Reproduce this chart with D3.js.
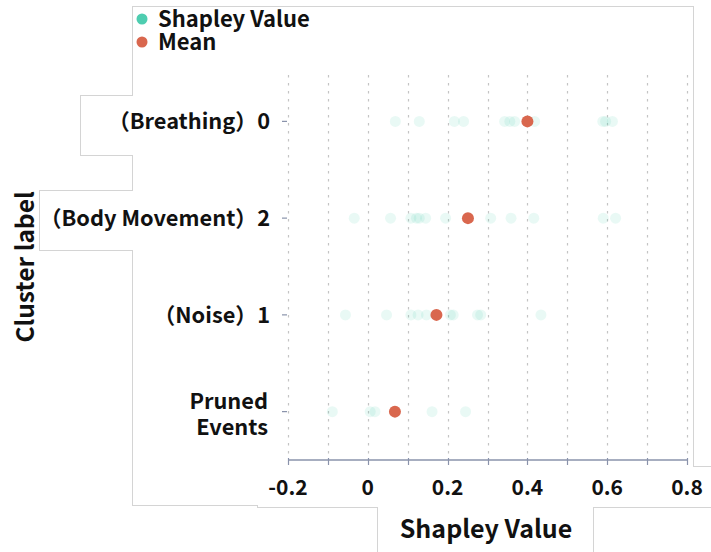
<!DOCTYPE html>
<html><head><meta charset="utf-8">
<script src="https://cdn.jsdelivr.net/npm/d3@7"></script>
<style>
html,body{margin:0;padding:0;background:#fff;}
svg{display:block;}
text{font-family:"Noto Sans CJK JP","Noto Sans",sans-serif;font-weight:700;fill:#111;}
</style></head>
<body>
<svg id="c" width="711" height="552"></svg>
<script>
// ---- data ----
const categories = ["（Breathing）0", "（Body Movement）2", "（Noise）1", "Pruned Events"];
const shapBreathing = [0.069, 0.129, 0.217, 0.240, 0.343, 0.356, 0.368, 0.418, 0.589, 0.596, 0.613];
const shapBodyMovement = [-0.034, 0.057, 0.108, 0.122, 0.129, 0.145, 0.195, 0.308, 0.359, 0.416, 0.590, 0.621];
const shapNoise = [-0.056, 0.047, 0.108, 0.126, 0.147, 0.207, 0.214, 0.275, 0.283, 0.434];
const shapPruned = [-0.089, 0.006, 0.018, 0.161, 0.245];
const meanValues = [0.400, 0.251, 0.172, 0.068];
const xTicks = [-0.2, 0, 0.2, 0.4, 0.6, 0.8];
const xGrid = [-0.2, -0.1, 0, 0.1, 0.2, 0.3, 0.4, 0.5, 0.6, 0.7, 0.8];
const legendLabels = ["Shapley Value", "Mean"];

const shapSeries = [shapBreathing, shapBodyMovement, shapNoise, shapPruned];
const green = "#4ecdb0", red = "#d9674e";

const svg = d3.select("#c");

// ---- panel outlines (union of boxes) ----
const boxes = [
  [133, 7, 693, 505],
  [81, 96, 140, 155],
  [40, 191, 140, 250],
  [258, 467, 730, 507],
  [378, 507, 593, 570]
];
const bg = svg.append("g");
bg.selectAll("rect.s").data(boxes).join("rect")
  .attr("x", d => d[0]).attr("y", d => d[1])
  .attr("width", d => d[2] - d[0]).attr("height", d => d[3] - d[1])
  .attr("fill", "none").attr("stroke", "#d4d4d4").attr("stroke-width", 2);
bg.selectAll("rect.f").data(boxes).join("rect")
  .attr("x", d => d[0]).attr("y", d => d[1])
  .attr("width", d => d[2] - d[0]).attr("height", d => d[3] - d[1])
  .attr("fill", "#fff");

// ---- scales ----
const x = d3.scaleLinear().domain([-0.2, 0.8]).range([288, 687]);
const y = d3.scaleBand().domain(categories).range([73, 460]).padding(0);
const yc = c => y(c) + y.bandwidth() / 2;

// grid
svg.append("g").selectAll("line").data(xGrid).join("line")
  .attr("x1", d => Math.round(x(d)) + 0.5).attr("x2", d => Math.round(x(d)) + 0.5)
  .attr("y1", 75).attr("y2", 458)
  .attr("stroke", "#c4c4c4").attr("stroke-width", 1.2).attr("stroke-dasharray", "2.5,5.5");

// x axis
const xAxisG = svg.append("g").attr("transform", "translate(0,460)");
xAxisG.append("line").attr("x1", x(-0.2)).attr("x2", x(0.8)).attr("y1", 0).attr("y2", 0)
  .attr("stroke", "#8a93ab").attr("stroke-width", 1.5);
xAxisG.selectAll("line.t").data(xGrid).join("line").attr("class", "t")
  .attr("x1", d => Math.round(x(d)) + 0.5).attr("x2", d => Math.round(x(d)) + 0.5)
  .attr("y1", -2).attr("y2", 5).attr("stroke", "#8a93ab").attr("stroke-width", 1.2);
xAxisG.selectAll("text").data(xTicks).join("text")
  .attr("x", d => x(d)).attr("y", 35).attr("text-anchor", "middle")
  .style("font-size", "21px").text(d => d === 0 ? "0" : d3.format(".1f")(d).replace("−", "-"));

// y axis ticks + labels
const yAxisG = svg.append("g");
yAxisG.selectAll("line").data(categories).join("line")
  .attr("x1", 282).attr("x2", 287).attr("y1", d => yc(d)).attr("y2", d => yc(d))
  .attr("stroke", "#8a93ab").attr("stroke-width", 1.2);
yAxisG.selectAll("text").data(categories).join("text")
  .attr("text-anchor", "end").attr("x", 270)
  .attr("y", d => yc(d) + 8)
  .style("font-size", "21.8px")
  .each(function(d) {
    const t = d3.select(this);
    if (d === "Pruned Events") {
      t.append("tspan").attr("x", 268).attr("dy", -11).text("Pruned");
      t.append("tspan").attr("x", 268).attr("dy", 26.5).text("Events");
    } else {
      t.text(d);
    }
  });

// axis titles
svg.append("text").attr("x", 486).attr("y", 538).attr("text-anchor", "middle")
  .style("font-size", "25px").text("Shapley Value");
svg.append("text").attr("transform", "translate(34,267) rotate(-90)").attr("text-anchor", "middle")
  .style("font-size", "24.5px").text("Cluster label");

// points
const pts = svg.append("g");
shapSeries.forEach((arr, i) => {
  pts.selectAll(null).data(arr).join("circle")
    .attr("cx", d => x(d)).attr("cy", yc(categories[i])).attr("r", 5.5)
    .attr("fill", green).attr("fill-opacity", 0.12);
});
pts.selectAll("circle.m").data(meanValues).join("circle").attr("class", "m")
  .attr("cx", d => x(d)).attr("cy", (d, i) => yc(categories[i])).attr("r", 6)
  .attr("fill", red);

// legend
const lg = svg.append("g");
lg.selectAll("circle").data(legendLabels).join("circle")
  .attr("cx", 142).attr("cy", (d, i) => 19 + i * 23).attr("r", 5.5)
  .attr("fill", (d, i) => i === 0 ? green : red);
lg.selectAll("text").data(legendLabels).join("text")
  .attr("x", 158).attr("y", (d, i) => 27 + i * 23)
  .style("font-size", "22px").text(d => d);
</script>
</body></html>
